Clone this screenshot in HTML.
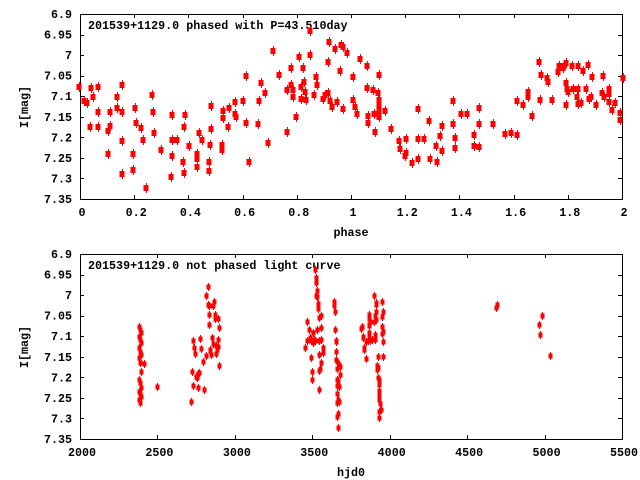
<!DOCTYPE html>
<html><head><style>
body{margin:0;background:#fff}
svg{display:block}
text{font-family:"Liberation Mono",monospace;font-weight:bold;font-size:11.7px;fill:#000}
</style></head><body>
<svg id="s" width="640" height="480" xmlns="http://www.w3.org/2000/svg">
<g id="ax" stroke="#000" stroke-width="1" fill="none"></g>
<g id="lb"></g>
<g id="pt" fill="#f00" stroke="#f00"></g>
</svg>
<script>
(function(){
var NS="http://www.w3.org/2000/svg";
function el(p,t,a,txt){var e=document.createElementNS(NS,t);for(var k in a)e.setAttribute(k,a[k]);if(txt!=null)e.textContent=txt;document.getElementById(p).appendChild(e);return e;}
var L=80,R=622;
function frame(T,B,xl,title,xlab,ylabc){
 el('ax','rect',{x:L+.5,y:T+.5,width:R-L,height:B-T});
 var yl=['6.9','6.95','7','7.05','7.1','7.15','7.2','7.25','7.3','7.35'];
 for(var i=0;i<10;i++){var y=T+(B-T)*i/9;var yy=Math.round(y)+.5;
  el('ax','line',{x1:L,y1:yy,x2:L+4,y2:yy});el('ax','line',{x1:R-4,y1:yy,x2:R,y2:yy});
  el('lb','text',{x:72,y:y+4,'text-anchor':'end'},yl[i]);}
 var n=xl.length;
 for(var i=0;i<n;i++){var x=L+(R-L)*i/(n-1);var xx=Math.round(x)+.5;
  el('ax','line',{x1:xx,y1:B,x2:xx,y2:B-4});el('ax','line',{x1:xx,y1:T,x2:xx,y2:T+4});
  el('lb','text',{x:x+2,y:B+17,'text-anchor':'middle'},xl[i]);}
 el('lb','text',{x:88,y:T+15},title);
 el('lb','text',{x:351,y:B+37,'text-anchor':'middle'},xlab);
 el('lb','text',{x:0,y:0,'text-anchor':'middle',transform:'translate(28,'+ylabc+') rotate(-90)'},'I[mag]');
}
frame(14,199,['0','0.2','0.4','0.6','0.8','1','1.2','1.4','1.6','1.8','2'],'201539+1129.0 phased with P=43.510day','phase',107);
frame(254,439,['2000','2500','3000','3500','4000','4500','5000','5500'],'201539+1129.0 not phased light curve','hjd0',347);
var topPts=[[79,87],[84,101],[87,103],[91,88],[90,127],[93,97],[98,127],[98,87],[98,112],[108,131],[110,126],[110,112],[108,154],[117,108],[117,97],[122,85],[122,112],[122,141],[122,174],[133,154],[133,170],[135,108],[136,123],[141,128],[143,140],[146,188],[152,95],[153,112],[154,133],[161,150],[172,115],[172,140],[172,156],[171,177],[177,140],[183,162],[184,127],[185,115],[184,173],[189,146],[197,159],[197,154],[197,167],[199,133],[202,140],[209,162],[209,171],[210,145],[211,106],[211,129],[222,145],[222,150],[223,111],[223,118],[228,127],[229,108],[235,114],[236,117],[235,102],[243,101],[246,123],[246,76],[249,162],[259,101],[258,124],[261,83],[265,93],[268,143],[273,51],[279,75],[287,90],[287,132],[291,68],[291,85],[293,90],[293,97],[296,117],[299,57],[301,99],[301,87],[303,68],[304,82],[305,92],[306,100],[310,55],[310,31],[314,95],[316,77],[317,85],
[323,99],[325,95],[328,93],[329,42],[328,62],[330,101],[332,107],[335,49],[337,102],[340,71],[341,45],[343,47],[343,109],[347,53],[353,77],[353,100],[355,107],[357,114],[360,59],[367,66],[367,88],[368,116],[368,123],[373,90],[374,114],[375,132],[378,93],[379,75],[379,100],[379,104],[379,108],[379,112],[379,117],[385,111],[391,129],[399,141],[400,149],[406,139],[406,153],[405,156],[412,163],[418,139],[418,159],[418,109],[424,139],[429,121],[430,159],[436,146],[437,162],[440,136],[442,126],[442,151],[453,101],[453,124],[455,138],[455,148],[461,114],[467,114],[474,135],[474,146],[479,124],[479,108],[479,147],[493,124],[505,134],[511,133],[517,135],[517,101],[523,105],[528,97],[528,92],[532,116],[539,62],[540,100],[541,75],[547,78],[548,82],[552,100],[558,72],[559,66],[563,68],[564,66],[566,83],[566,63],[566,105],[567,89],[568,92],[572,66],[573,89],[577,97],[578,66],[578,89],[578,104],[581,103],[583,71],[586,89],[588,65],[589,99],[592,77],[591,97],[596,105],[602,93],[603,76],[604,97],[609,89],[609,94],[609,102],[612,110],[615,103],[620,113],[620,120],[623,78]];
topPts.forEach(function(p){el('pt','rect',{x:p[0]-2.5,y:p[1]-3,width:5,height:6,stroke:'none'});el('pt','line',{x1:p[0]+.5,y1:p[1]-5,x2:p[0]+.5,y2:p[1]+5,'stroke-width':1});});
var bot=[];
[327,330,333,337,340,343,348,352,355,358,363,372,380,383,388,392,394,397,400,403].forEach(function(y,i){bot.push([139+(i%3),y]);});
bot=bot.concat([[144,364],[157,387],[191,402],[192,372],[193,386],[193,341],[194,348],[195,354],[196,377],[197,378],[198,388],[198,374],[199,373],[200,339],[201,349],[203,362],[204,390],[206,356],
[206,296],[208,287],[208,305],[209,306],[209,315],[209,325],[210,350],[210,351],[211,355],[212,338],[213,344],[213,306],[214,302],[215,319],[215,315],[216,354],[216,346],[217,350],[218,347],[218,319],[219,366],[219,328],[218,340],
[305,348],[307,341],[307,322],[309,330],[310,338],[311,358],[312,380],[312,372],[311,341],[313,343],[313,333],[314,340],[315,341],[316,296],[316,283],[315,270],[316,278],[317,291],[317,297],[318,304],[318,309],[319,318],[319,341],[319,371],[320,369],[319,390],[321,316],[321,328],[321,363],[323,348],[323,353],[317,330],[319,355],[321,340],
[334,302],[334,306],[335,312],[335,330],[336,341],[336,342],[336,352],[336,360],[337,362],[337,369],[337,380],[337,386],[337,394],[338,382],[338,400],[338,414],[339,402],[339,365],[339,387],[340,367],[340,375],[337,403],[338,428],[337,417],
[361,329],[362,327],[363,338],[363,337],[364,350],[364,348],[366,359],[366,342],[368,341],[369,326],[369,319],[369,315],[369,335],[369,333],[369,325],[370,322],[370,341],[372,340],[374,322],[374,296],[375,335],[375,340],[375,316],[376,312],[376,320],[376,303],[376,305],[377,366],[377,370],[378,357],[378,368],[378,378],[379,380],[379,385],[379,391],[379,395],[379,400],[379,412],[380,404],[379,418],[381,410],[382,327],[382,334],[383,332],[383,342],[383,357],[382,317],[382,302],[383,312],
[496,308],[497,305],[539,325],[540,335],[542,316],[550,356]]);
bot.forEach(function(p){el('pt','rect',{x:p[0]-1.5,y:p[1]-2.5,width:4,height:5,stroke:'none'});el('pt','line',{x1:p[0]+.5,y1:p[1]-4,x2:p[0]+.5,y2:p[1]+4,'stroke-width':1});});
})();
</script>
</body></html>
